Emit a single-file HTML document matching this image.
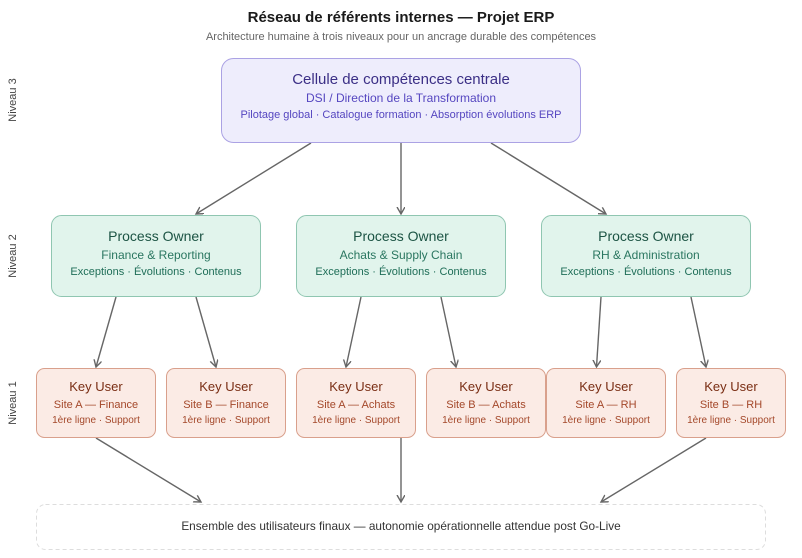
<!DOCTYPE html>
<html><head><meta charset="utf-8"><style>
html,body{margin:0;padding:0;background:#fff;}
svg{display:block;}
text{font-family:"Liberation Sans",Arial,sans-serif;}
</style></head><body>
<svg width="802" height="558" viewBox="0 0 802 558" xmlns="http://www.w3.org/2000/svg">
<defs>
<marker id="ah" markerWidth="10" markerHeight="10" refX="7" refY="4" orient="auto" markerUnits="userSpaceOnUse">
<path d="M0,0 L7,4 L0,8" fill="none" stroke="#666" stroke-width="1.4"/>
</marker>
</defs>
<rect width="802" height="558" fill="#fff"/>
<text x="401" y="22" text-anchor="middle" font-size="15" font-weight="bold" fill="#1a1a1a">Réseau de référents internes — Projet ERP</text>
<text x="401" y="40" text-anchor="middle" font-size="11" fill="#666">Architecture humaine à trois niveaux pour un ancrage durable des compétences</text>

<text transform="translate(16,100) rotate(-90)" text-anchor="middle" font-size="11" fill="#444">Niveau 3</text>
<text transform="translate(16,256) rotate(-90)" text-anchor="middle" font-size="11" fill="#444">Niveau 2</text>
<text transform="translate(16,403) rotate(-90)" text-anchor="middle" font-size="11" fill="#444">Niveau 1</text>

<g stroke="#666" stroke-width="1.4" fill="none" marker-end="url(#ah)">
<line x1="311" y1="143" x2="196" y2="214"/>
<line x1="401" y1="143" x2="401" y2="214"/>
<line x1="491" y1="143" x2="606" y2="214"/>
<line x1="116" y1="297" x2="96" y2="367"/>
<line x1="196" y1="297" x2="216" y2="367"/>
<line x1="361" y1="297" x2="346" y2="367"/>
<line x1="441" y1="297" x2="456" y2="367"/>
<line x1="601" y1="297" x2="596.5" y2="367"/>
<line x1="691" y1="297" x2="706" y2="367"/>
<line x1="96" y1="438" x2="201" y2="502"/>
<line x1="401" y1="438" x2="401" y2="502"/>
<line x1="706" y1="438" x2="601" y2="502"/>
</g>

<rect x="221.5" y="58.5" width="359" height="84" rx="12" fill="#eeedfc" stroke="#aba2e4" stroke-width="1"/>
<text x="401" y="84" text-anchor="middle" font-size="15" fill="#3b2f86">Cellule de compétences centrale</text>
<text x="401" y="102" text-anchor="middle" font-size="12" fill="#5546c0">DSI / Direction de la Transformation</text>
<text x="401" y="118" text-anchor="middle" font-size="11" fill="#5546c0">Pilotage global · Catalogue formation · Absorption évolutions ERP</text>

<g font-size="14">
<rect x="51.5" y="215.5" width="209" height="81" rx="10" fill="#e1f4ec" stroke="#8fc6b1"/>
<text x="156" y="241" text-anchor="middle" fill="#1c5444">Process Owner</text>
<text x="156" y="259" text-anchor="middle" font-size="12" fill="#2a7660">Finance &amp; Reporting</text>
<text x="156" y="275" text-anchor="middle" font-size="11" fill="#1f6e58">Exceptions · Évolutions · Contenus</text>

<rect x="296.5" y="215.5" width="209" height="81" rx="10" fill="#e1f4ec" stroke="#8fc6b1"/>
<text x="401" y="241" text-anchor="middle" fill="#1c5444">Process Owner</text>
<text x="401" y="259" text-anchor="middle" font-size="12" fill="#2a7660">Achats &amp; Supply Chain</text>
<text x="401" y="275" text-anchor="middle" font-size="11" fill="#1f6e58">Exceptions · Évolutions · Contenus</text>

<rect x="541.5" y="215.5" width="209" height="81" rx="10" fill="#e1f4ec" stroke="#8fc6b1"/>
<text x="646" y="241" text-anchor="middle" fill="#1c5444">Process Owner</text>
<text x="646" y="259" text-anchor="middle" font-size="12" fill="#2a7660">RH &amp; Administration</text>
<text x="646" y="275" text-anchor="middle" font-size="11" fill="#1f6e58">Exceptions · Évolutions · Contenus</text>
</g>

<g>
<rect x="36.5" y="368.5" width="119" height="69" rx="8" fill="#fbebe5" stroke="#d9a08c"/>
<text x="96" y="391" text-anchor="middle" font-size="13" fill="#7a2e14">Key User</text>
<text x="96" y="408" text-anchor="middle" font-size="11" fill="#a4482a">Site A — Finance</text>
<text x="96" y="423" text-anchor="middle" font-size="10" fill="#a4482a">1ère ligne · Support</text>

<rect x="166.5" y="368.5" width="119" height="69" rx="8" fill="#fbebe5" stroke="#d9a08c"/>
<text x="226" y="391" text-anchor="middle" font-size="13" fill="#7a2e14">Key User</text>
<text x="226" y="408" text-anchor="middle" font-size="11" fill="#a4482a">Site B — Finance</text>
<text x="226" y="423" text-anchor="middle" font-size="10" fill="#a4482a">1ère ligne · Support</text>

<rect x="296.5" y="368.5" width="119" height="69" rx="8" fill="#fbebe5" stroke="#d9a08c"/>
<text x="356" y="391" text-anchor="middle" font-size="13" fill="#7a2e14">Key User</text>
<text x="356" y="408" text-anchor="middle" font-size="11" fill="#a4482a">Site A — Achats</text>
<text x="356" y="423" text-anchor="middle" font-size="10" fill="#a4482a">1ère ligne · Support</text>

<rect x="426.5" y="368.5" width="119" height="69" rx="8" fill="#fbebe5" stroke="#d9a08c"/>
<text x="486" y="391" text-anchor="middle" font-size="13" fill="#7a2e14">Key User</text>
<text x="486" y="408" text-anchor="middle" font-size="11" fill="#a4482a">Site B — Achats</text>
<text x="486" y="423" text-anchor="middle" font-size="10" fill="#a4482a">1ère ligne · Support</text>

<rect x="546.5" y="368.5" width="119" height="69" rx="8" fill="#fbebe5" stroke="#d9a08c"/>
<text x="606" y="391" text-anchor="middle" font-size="13" fill="#7a2e14">Key User</text>
<text x="606" y="408" text-anchor="middle" font-size="11" fill="#a4482a">Site A — RH</text>
<text x="606" y="423" text-anchor="middle" font-size="10" fill="#a4482a">1ère ligne · Support</text>

<rect x="676.5" y="368.5" width="109" height="69" rx="8" fill="#fbebe5" stroke="#d9a08c"/>
<text x="731" y="391" text-anchor="middle" font-size="13" fill="#7a2e14">Key User</text>
<text x="731" y="408" text-anchor="middle" font-size="11" fill="#a4482a">Site B — RH</text>
<text x="731" y="423" text-anchor="middle" font-size="10" fill="#a4482a">1ère ligne · Support</text>
</g>

<rect x="36.5" y="504.5" width="729" height="45" rx="9" fill="#fff" stroke="#dddddd" stroke-dasharray="4,3"/>
<text x="401" y="530" text-anchor="middle" font-size="11.8" fill="#333">Ensemble des utilisateurs finaux — autonomie opérationnelle attendue post Go-Live</text>
</svg>
</body></html>
